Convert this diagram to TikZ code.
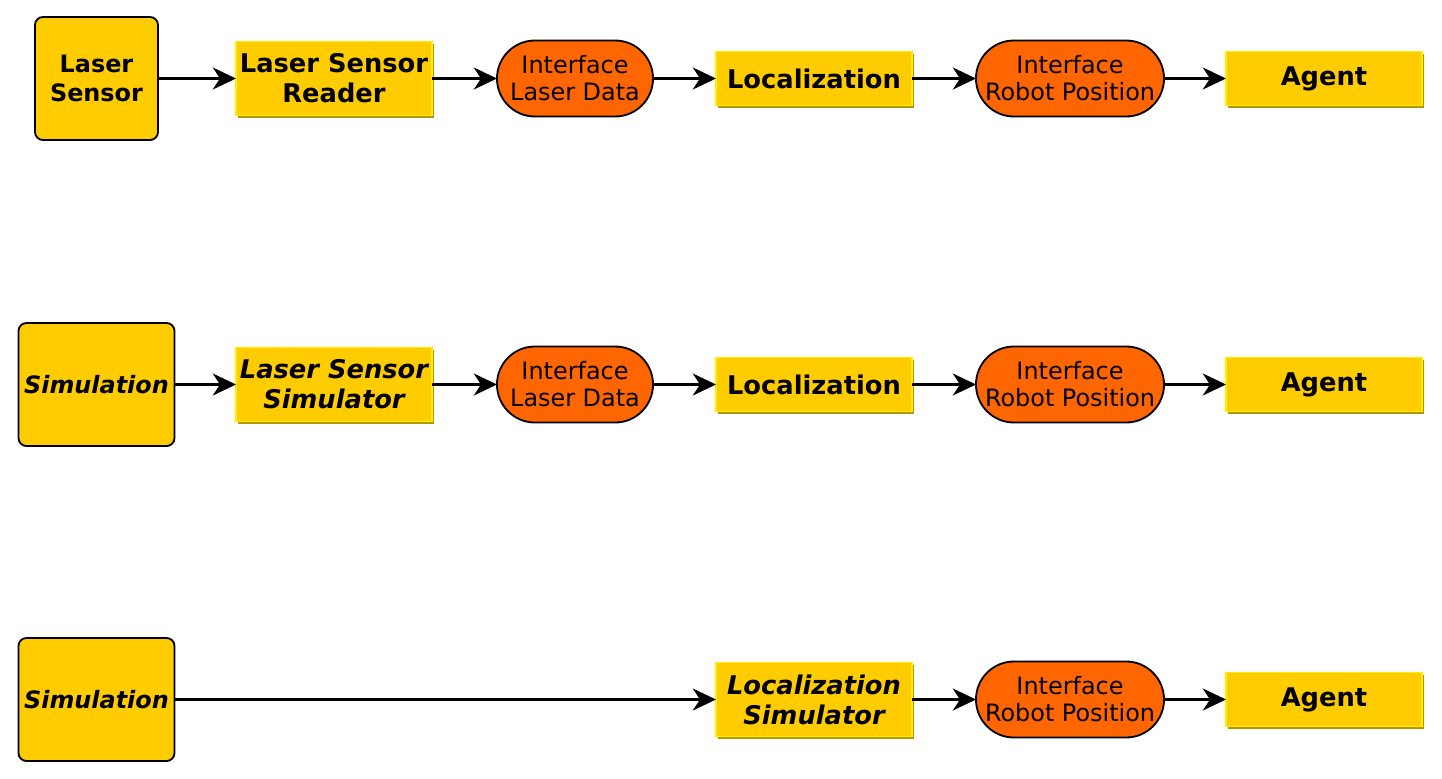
\documentclass[tikz,border=0pt]{standalone}
\usepackage{fontspec}
\setmainfont{DejaVu Sans}
\usetikzlibrary{arrows.meta, positioning, shadows}

\definecolor{boxyellow}{HTML}{FFCC00}
\definecolor{edgeyellow}{HTML}{FFEE00}
\definecolor{edgeolive}{HTML}{B39600}
\definecolor{ifaceorange}{HTML}{FF6600}

\tikzset{
  hwbox/.style={draw, line width=1.3pt, rounded corners=0.2cm, fill=boxyellow,
    minimum height=3.075cm, align=center, inner sep=0pt, outer sep=0pt,
    font=\bfseries\fontsize{17}{20.6}\selectfont},
  modbox/.style={draw=edgeyellow, line width=1.2pt, fill=boxyellow,
    minimum width=4.9cm, align=center, inner sep=0pt, outer sep=0pt,
    drop shadow={shadow xshift=0.055cm, shadow yshift=-0.055cm, fill=edgeolive, opacity=1},
    font=\bfseries\fontsize{18.3}{21.3}\selectfont},
  iface/.style={draw, line width=1.3pt, fill=ifaceorange, rounded corners=0.95cm,
    minimum height=1.9cm, align=center, inner sep=0pt, outer sep=0pt,
    font=\fontsize{17}{19.2}\selectfont},
  flow/.style={line width=1.5pt, -{Stealth[length=0.58cm, width=0.55cm, inset=0.18cm]}}
}

\begin{document}
\begin{tikzpicture}[x=0.025cm, y=-0.025cm]
\useasboundingbox (0,0) rectangle (1442,778);

% Real laser sensor
\node (sens1) [hwbox, minimum width=3.075cm] at (96.5,78.5) {Laser\\Sensor};
\node (read1) [modbox, minimum height=1.85cm] at (334,78.5) {Laser Sensor\\Reader};
\node (ifl1) [iface, minimum width=3.9cm] at (575,78.5) {Interface\\Laser Data};
\node (loc1) [modbox, minimum height=1.35cm] at (814,78.5) {Localization};
\node (ifr1) [iface, minimum width=4.7cm] at (1070,78.5) {Interface\\Robot Position};
\node (agent1) [modbox, minimum height=1.35cm] at (1324,78.5) {Agent};

% Simulated laser sensor
\node (sim2) [hwbox, minimum width=3.9cm] at (96.5,384.5) {\itshape Simulation};
\node (read2) [modbox, minimum height=1.85cm] at (read1 |- sim2) {\itshape Laser Sensor\\\itshape Simulator};
\node (ifl2) [iface, minimum width=3.9cm] at (ifl1 |- sim2) {Interface\\Laser Data};
\node (loc2) [modbox, minimum height=1.35cm] at (loc1 |- sim2) {Localization};
\node (ifr2) [iface, minimum width=4.7cm] at (ifr1 |- sim2) {Interface\\Robot Position};
\node (agent2) [modbox, minimum height=1.35cm] at (agent1 |- sim2) {Agent};

% Simulated localization
\node (sim3) [hwbox, minimum width=3.9cm] at (96.5,699.5) {\itshape Simulation};
\node (locsim3) [modbox, minimum height=1.85cm] at (loc1 |- sim3) {\itshape Localization\\\itshape Simulator};
\node (ifr3) [iface, minimum width=4.7cm] at (ifr1 |- sim3) {Interface\\Robot Position};
\node (agent3) [modbox, minimum height=1.35cm] at (agent1 |- sim3) {Agent};

% Data flow
\draw[flow] (sens1) -- (read1);
\draw[flow] (read1) -- (ifl1);
\draw[flow] (ifl1) -- (loc1);
\draw[flow] (loc1) -- (ifr1);
\draw[flow] (ifr1) -- (agent1);

\draw[flow] (sim2) -- (read2);
\draw[flow] (read2) -- (ifl2);
\draw[flow] (ifl2) -- (loc2);
\draw[flow] (loc2) -- (ifr2);
\draw[flow] (ifr2) -- (agent2);

\draw[flow] (sim3) -- (locsim3);
\draw[flow] (locsim3) -- (ifr3);
\draw[flow] (ifr3) -- (agent3);
\end{tikzpicture}
\end{document}
